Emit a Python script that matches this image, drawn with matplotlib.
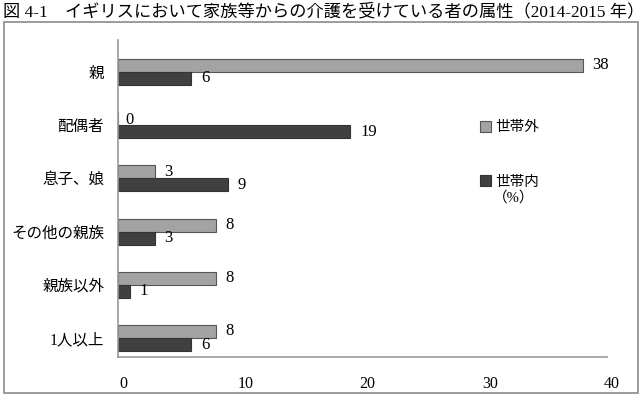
import matplotlib
matplotlib.use('Agg')
from matplotlib import pyplot as plt
from matplotlib.patches import Rectangle
import matplotlib.transforms as mtransforms

plt.rcParams['font.family'] = ['Liberation Serif', 'Noto Sans CJK JP', 'DejaVu Sans']

# data (%)
categories = ['親', '配偶者', '息子、娘', 'その他の親族', '親族以外', '1人以上']
outside = [38, 0, 3, 8, 8, 8]   # 世帯外
inside = [6, 19, 9, 3, 1, 6]    # 世帯内
xticks = [0, 10, 20, 30, 40]

title = '図 4-1　イギリスにおいて家族等からの介護を受けている者の属性（2014-2015 年）'

fig = plt.figure(figsize=(6.43, 3.96), dpi=100)
ax = fig.add_axes([118/643, 1 - 357/396, (607 - 118)/643, (357 - 40)/396])

h = 0.245
ypos = list(range(len(categories)))
light = '#a3a3a3'
dark = '#404040'

ax.barh([y - h/2 for y in ypos], outside, height=h, color=light,
        edgecolor='#555555', linewidth=0.8, label='世帯外')
ax.barh([y + h/2 for y in ypos], inside, height=h, color=dark,
        edgecolor='#333333', linewidth=0.8, label='世帯内')

# value labels
for y, v in zip(ypos, outside):
    ax.annotate(str(v), (v, y - h/2), xytext=(7 if v else 5, 0 if v else -1),
                textcoords='offset points', va='center', ha='left', fontsize=12)
for y, v in zip(ypos, inside):
    ax.annotate(str(v), (v, y + h/2), xytext=(7, 0),
                textcoords='offset points', va='center', ha='left', fontsize=12)

ax.set_xlim(0, 40)
ax.set_ylim(5.357, -0.6)
ax.set_xticks(xticks)
ax.set_xticklabels([str(t) for t in xticks], fontsize=11.5)
ax.set_yticks(ypos)
ax.set_yticklabels(categories, fontsize=11.2)
ax.tick_params(axis='both', length=0)
ax.tick_params(axis='x', pad=14)
ax.tick_params(axis='y', pad=10)
off = mtransforms.ScaledTranslation(5/100, 0, fig.dpi_scale_trans)
for lbl in ax.get_xticklabels():
    lbl.set_transform(lbl.get_transform() + off)

for s in ['top', 'right']:
    ax.spines[s].set_visible(False)
for s in ['left', 'bottom']:
    ax.spines[s].set_color('#999999')
    ax.spines[s].set_linewidth(1.2)

leg = ax.legend(loc='upper left', bbox_to_anchor=(474/643, 1 - 115/396),
                bbox_transform=fig.transFigure, frameon=False, fontsize=10.5,
                handlelength=0.75, handleheight=0.75, handletextpad=0.3,
                labelspacing=2.8, borderaxespad=0)
fig.text(514/643, 1 - 198/396, '（%）', fontsize=10.5, ha='center', va='center')

fig.patches.append(Rectangle((4/643, 1 - 393/396), 634/643, 371/396,
                             transform=fig.transFigure, fill=False,
                             edgecolor='#8a8a8a', linewidth=1.2))
fig.text(3/643, 1 - 12/396, title, fontsize=12.4, ha='left', va='center')

fig.savefig('out.png', dpi=100)
